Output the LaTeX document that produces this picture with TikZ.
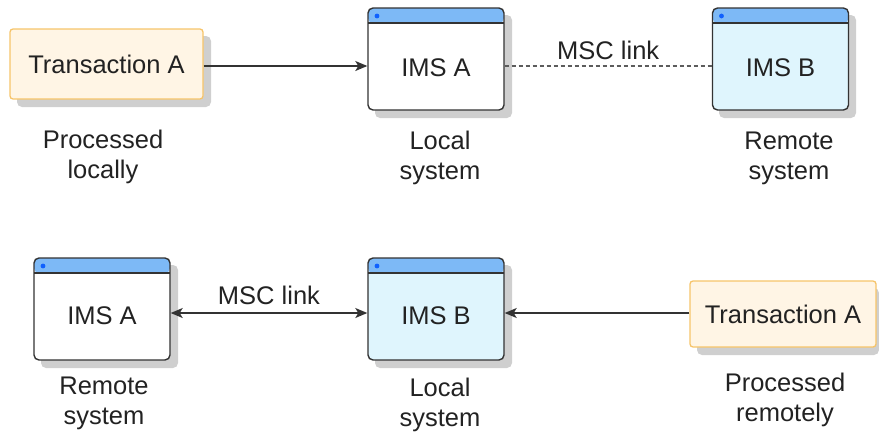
\documentclass[tikz,border=0pt]{standalone}
\usepackage{fontspec}
\setmainfont{Liberation Sans}
\usetikzlibrary{arrows.meta}
\definecolor{txfill}{HTML}{FFF5E5}
\definecolor{txdraw}{HTML}{F6C46A}
\definecolor{hdrblue}{HTML}{7DB9F6}
\definecolor{dotblue}{HTML}{1060FE}
\definecolor{imsbfill}{HTML}{DFF5FD}
\definecolor{linegray}{HTML}{333333}
\definecolor{txtgray}{HTML}{222222}
\definecolor{shadowgray}{HTML}{CFCFCF}
\tikzset{
  every node/.style={font=\fontsize{25.5}{30}\selectfont, text=txtgray, align=center},
  txbox/.style={draw=txdraw, fill=txfill, line width=1.3pt, rounded corners=3pt, inner sep=0pt},
  imsbox/.style={draw=linegray, line width=1.4pt, rounded corners=5pt, inner sep=0pt,
     minimum width=136pt, minimum height=102pt,
     path picture={
       \fill[hdrblue] (path picture bounding box.north west) rectangle ([yshift=-15pt]path picture bounding box.north east);
       \draw[linegray, line width=1.3pt] ([yshift=-15pt]path picture bounding box.north west) -- ([yshift=-15pt]path picture bounding box.north east);
       \fill[dotblue] ([xshift=9pt,yshift=-8pt]path picture bounding box.north west) circle (2.4pt);
     }},
  imsa/.style={imsbox, fill=white},
  imsb/.style={imsbox, fill=imsbfill},
  conn/.style={linegray, line width=1.3pt},
  shadowbox/.style={fill=shadowgray, rounded corners=5pt},
  caption/.style={font=\fontsize{25.5}{30}\selectfont}
}
\begin{document}
\begin{tikzpicture}[x=1pt,y=-1pt]
\useasboundingbox (0,0) rectangle (879,434);
% shadows (drawn first, underneath the boxes)
\path[shadowbox] (17,36) rectangle (211,107);
\path[shadowbox] (375,15) rectangle (512,118);
\path[shadowbox] (719,15) rectangle (856,118);
\path[shadowbox] (41,265) rectangle (178,368);
\path[shadowbox] (375,265) rectangle (512,368);
\path[shadowbox] (697,288) rectangle (879,355);
% top row
\node[txbox, minimum width=193pt, minimum height=70pt] (tA1) at (106.5,64) {};
\node (tA1t) at (106.5,64) {Transaction A};
\node[imsa] (imsA1) at (436,59) {};
\node (imsA1t) at (436,68) {IMS A};
\node[imsb] (imsB1) at (780.5,59) {};
\node (imsB1t) at (780.5,68) {IMS B};
\draw[conn, -{Stealth[length=12pt, width=10pt, inset=3pt]}] (tA1.east |- 0,66) -- (imsA1.west |- 0,66);
\draw[linegray!80, line width=1.1pt, dash pattern=on 4pt off 3pt] (imsA1.east |- 0,66) -- (imsB1.west |- 0,66) node[midway, above=4pt, inner sep=2pt] (msc1) {MSC link};
\node[caption] (c1) at (103,157) {Processed\\locally};
\node[caption] (c2) at (440,158) {Local\\system};
\node[caption] (c3) at (789,158) {Remote\\system};
% bottom row
\node[imsa] (imsA2) at (102,309) {};
\node (imsA2t) at (102,316) {IMS A};
\node[imsb] (imsB2) at (436,309) {};
\node (imsB2t) at (436,316) {IMS B};
\node[txbox, minimum width=186pt, minimum height=66pt] (tA2) at (783,314) {};
\node (tA2t) at (783,314) {Transaction A};
\draw[conn, {Stealth[length=12pt, width=10pt, inset=3pt]}-{Stealth[length=12pt, width=10pt, inset=3pt]}] (imsA2.east |- 0,313) -- (imsB2.west |- 0,313) node[midway, above=6pt, inner sep=2pt] (msc2) {MSC link};
\draw[conn, -{Stealth[length=12pt, width=10pt, inset=3pt]}] (tA2.west |- 0,313) -- (imsB2.east |- 0,313);
\node[caption] (c4) at (104,403) {Remote\\system};
\node[caption] (c5) at (440,405) {Local\\system};
\node[caption] (c6) at (785,400) {Processed\\remotely};
\end{tikzpicture}
\end{document}
